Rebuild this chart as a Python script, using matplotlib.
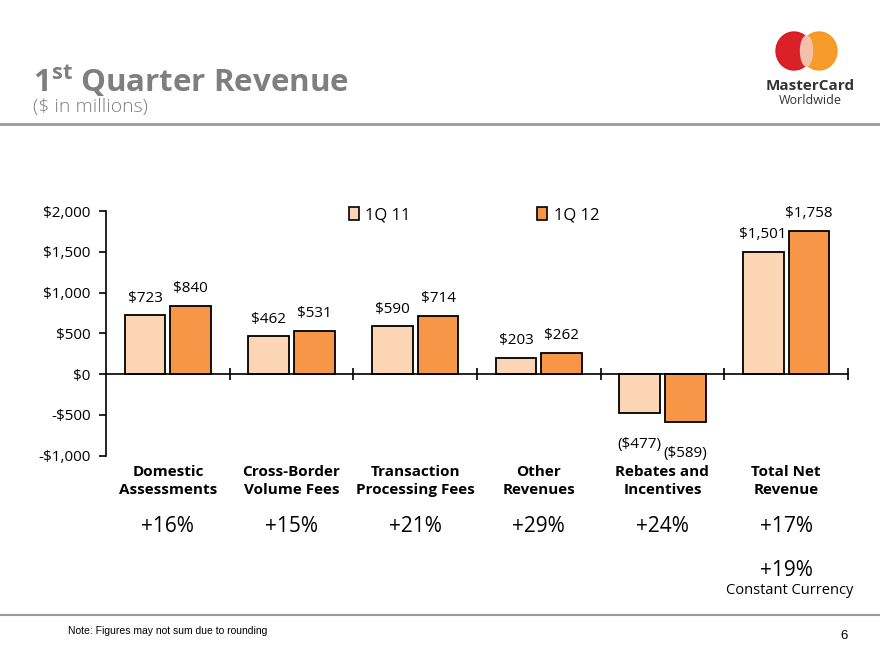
import matplotlib

matplotlib.use("Agg")

import matplotlib.pyplot as plt
import matplotlib.transforms as mtransforms
from matplotlib.lines import Line2D
from matplotlib.patches import Ellipse, Patch
import numpy as np

categories = [
    "Domestic\nAssessments",
    "Cross-Border\nVolume Fees",
    "Transaction\nProcessing Fees",
    "Other\nRevenues",
    "Rebates and\nIncentives",
    "Total Net\nRevenue",
]
q1_11 = [723, 462, 590, 203, -477, 1501]
q1_12 = [840, 531, 714, 262, -589, 1758]
growth = ["+16%", "+15%", "+21%", "+29%", "+24%", "+17%"]
y_ticks = [-1000, -500, 0, 500, 1000, 1500, 2000]
y_tick_labels = ["-$1,000", "-$500", "$0", "$500", "$1,000", "$1,500", "$2,000"]

LIGHT = "#FCD5B5"
ORANGE = "#F79646"
GRAY = "#7F7F7F"

plt.rcParams["font.family"] = ["Open Sans", "DejaVu Sans"]

fig = plt.figure(figsize=(8.8, 6.6), dpi=100)
ax = fig.add_axes([0.1205, 0.3095, 0.843, 0.3708])

x = np.arange(len(categories))
width = 0.33
offset = 0.185
ax.bar(x - offset, q1_11, width, color=LIGHT, edgecolor="black", linewidth=1.3, zorder=3)
ax.bar(x + offset, q1_12, width, color=ORANGE, edgecolor="black", linewidth=1.3, zorder=3)


def money(v):
    s = f"${abs(v):,}"
    return f"({s})" if v < 0 else s


for xi, v in zip(x - offset, q1_11):
    dy = 17 if v >= 0 else -31
    ax.annotate(money(v), (xi, v), xytext=(0, dy), textcoords="offset pixels",
                ha="center", va="center", fontsize=11)
for xi, v in zip(x + offset, q1_12):
    dy = 17 if v >= 0 else -31
    ax.annotate(money(v), (xi, v), xytext=(0, dy), textcoords="offset pixels",
                ha="center", va="center", fontsize=11)

ax.set_xlim(-0.5, len(categories) - 0.5)
ax.set_ylim(-1000, 2000)
ax.set_yticks(y_ticks)
ax.set_yticklabels(y_tick_labels, fontsize=11)
ax.tick_params(axis="y", direction="out", length=5, width=1.2, pad=6)

ax.spines["top"].set_visible(False)
ax.spines["right"].set_visible(False)
ax.spines["bottom"].set_position(("data", 0))
ax.spines["left"].set_linewidth(1.2)
ax.spines["bottom"].set_linewidth(1.2)
ax.spines["bottom"].set_zorder(4)
ax.set_xticks(np.arange(len(categories)) + 0.5)
ax.set_xticklabels([])
ax.tick_params(axis="x", direction="inout", length=9, width=1.2)

handles = [
    Patch(facecolor=LIGHT, edgecolor="black", linewidth=1.2, label="1Q 11"),
    Patch(facecolor=ORANGE, edgecolor="black", linewidth=1.2, label="1Q 12"),
]
ax.legend(handles=handles, ncol=2, loc="upper center", bbox_to_anchor=(0.496, 1.077),
          frameon=False, fontsize=12, handlelength=0.6, handleheight=0.8,
          handletextpad=0.4, columnspacing=7.6)

trans = mtransforms.blended_transform_factory(ax.transData, fig.transFigure)
for xi, cat, g in zip(x, categories, growth):
    ax.text(xi, 1 - 481 / 660, cat, transform=trans, ha="center", va="center",
            fontsize=11, fontweight="bold", linespacing=1.45, clip_on=False)
    ax.text(xi, 1 - 527 / 660, g, transform=trans, ha="center", va="center",
            fontsize=15, clip_on=False)
ax.text(x[-1], 1 - 570 / 660, "+19%", transform=trans, ha="center", va="center",
        fontsize=15, clip_on=False)
ax.text(x[-1] + 0.03, 1 - 591 / 660, "Constant Currency", transform=trans,
        ha="center", va="center", fontsize=10.5, clip_on=False)

# slide header
fig.text(33 / 880, 1 - 81 / 660, r"1$^{\mathregular{st}}$ Quarter Revenue", fontsize=22.5,
         fontweight="bold", color=GRAY, va="center", ha="left")
fig.text(33 / 880, 1 - 107 / 660, "($ in millions)", fontsize=14, fontweight="light",
         color=GRAY, va="center", ha="left")
fig.add_artist(Line2D([0, 1], [1 - 124 / 660] * 2, color="#9A9A9A", linewidth=2))
fig.add_artist(Line2D([0, 1], [1 - 615 / 660] * 2, color="#9A9A9A", linewidth=1.5))

fig.text(68 / 880, 1 - 631 / 660, "Note: Figures may not sum due to rounding",
         fontsize=7.5, family="Liberation Sans", va="center", ha="left")
fig.text(848 / 880, 1 - 636 / 660, "6", fontsize=9.5, family="Liberation Sans",
         va="center", ha="right")

# logo
fig.add_artist(Ellipse((794 / 880, 1 - 51 / 660), 36 / 880, 38 / 660,
                       color="#D8141C", alpha=0.95))
fig.add_artist(Ellipse((819 / 880, 1 - 51 / 660), 36 / 880, 38 / 660,
                       color="#F7961E", alpha=0.95))
fig.add_artist(Ellipse((806.5 / 880, 1 - 51 / 660), 12 / 880, 30 / 660,
                       color="#F6C6B8", alpha=0.9))
fig.text(810 / 880, 1 - 86 / 660, "MasterCard", fontsize=11, fontweight="bold",
         color="#333333", ha="center", va="center")
fig.text(810 / 880, 1 - 100 / 660, "Worldwide", fontsize=9, color="#333333",
         ha="center", va="center")

fig.savefig("out.png", dpi=100)
